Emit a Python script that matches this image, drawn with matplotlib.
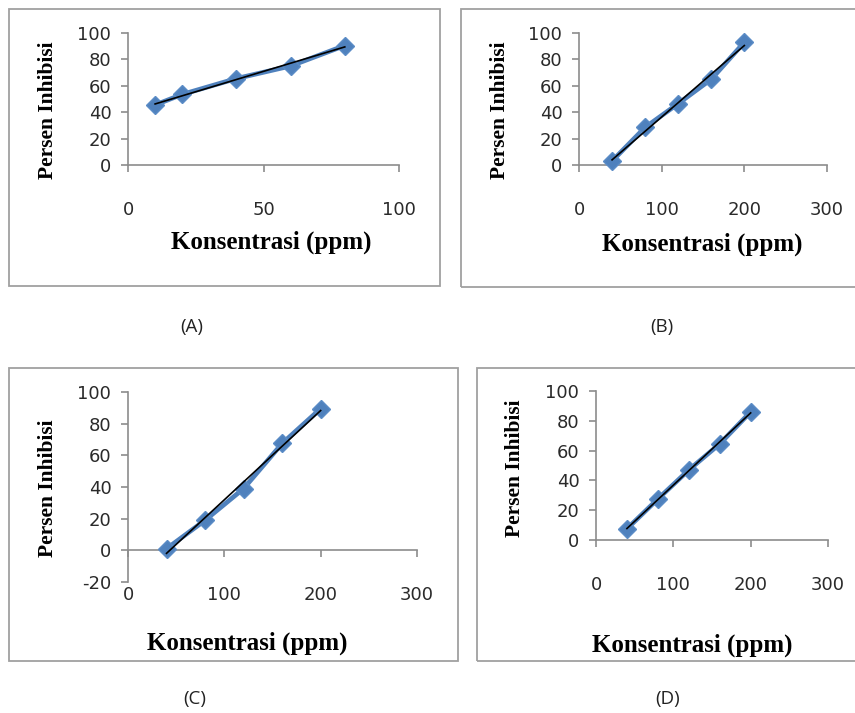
import matplotlib
matplotlib.use("Agg")
import matplotlib.pyplot as plt
from matplotlib.patches import Rectangle
import numpy as np

plt.rcParams["axes.unicode_minus"] = False

W, H = 855, 713

# ---- data ----
conc_A = [10, 20, 40, 60, 80]
inhib_A = [45.5, 53.5, 65.5, 75.0, 90.5]
conc_B = [40, 80, 120, 160, 200]
inhib_B = [3.0, 28.5, 46.5, 65.0, 93.0]
conc_C = [40, 80, 120, 160, 200]
inhib_C = [1.0, 19.0, 39.0, 67.5, 89.5]
conc_D = [40, 80, 120, 160, 200]
inhib_D = [7.5, 27.5, 47.0, 64.5, 86.0]

xticks_A = [0, 50, 100]
xticks_BCD = [0, 100, 200, 300]
yticks_ABD = [0, 20, 40, 60, 80, 100]
yticks_C = [-20, 0, 20, 40, 60, 80, 100]
panel_labels = ["(A)", "(B)", "(C)", "(D)"]
xlabel = "Konsentrasi (ppm)"
ylabel = "Persen Inhibisi"

fig = plt.figure(figsize=(W / 100, H / 100), dpi=100)
fig.patch.set_facecolor("white")


def frac(l, t, r, b):
    return [l / W, 1 - b / H, (r - l) / W, (b - t) / H]


# panel frames (pixel boxes)
frames = [(9, 9, 440, 286), (461, 9, 858, 287), (9, 368, 458, 661), (477, 368, 858, 661)]
for (l, t, r, b) in frames:
    fig.patches.append(Rectangle((l / W, 1 - b / H), (r - l) / W, (b - t) / H,
                                 transform=fig.transFigure, fill=False,
                                 edgecolor="#a0a0a0", linewidth=1.3))

specs = [
    dict(x=conc_A, y=inhib_A, box=(128, 33, 399, 165), xlim=(0, 100), ylim=(0, 100),
         xt=xticks_A, yt=yticks_ABD, xl=(271, 242), yl=(48, 110), pl=(192, 327), lab=panel_labels[0]),
    dict(x=conc_B, y=inhib_B, box=(579, 33, 827, 165), xlim=(0, 300), ylim=(0, 100),
         xt=xticks_BCD, yt=yticks_ABD, xl=(702, 244), yl=(500, 110), pl=(662, 327), lab=panel_labels[1]),
    dict(x=conc_C, y=inhib_C, box=(128, 392, 417, 582), xlim=(0, 300), ylim=(-20, 100),
         xt=xticks_BCD, yt=yticks_C, xl=(247, 643), yl=(48, 488), pl=(195, 699), lab=panel_labels[2]),
    dict(x=conc_D, y=inhib_D, box=(596, 391, 828, 540), xlim=(0, 300), ylim=(0, 100),
         xt=xticks_BCD, yt=yticks_ABD, xl=(692, 645), yl=(515, 468), pl=(668, 699), lab=panel_labels[3]),
]

blue = "#4F81BD"
gray = "#8c8c8c"

for s in specs:
    ax = fig.add_axes(frac(*s["box"]))
    ax.set_xlim(*s["xlim"])
    ax.set_ylim(*s["ylim"])
    ax.set_facecolor("none")
    ax.plot(s["x"], s["y"], color=blue, lw=3.4, marker="D", ms=9.5,
            mfc=blue, mec="#5b8cc6", zorder=3, clip_on=False)
    k, c = np.polyfit(s["x"], s["y"], 1)
    xs = np.array([min(s["x"]), max(s["x"])])
    ax.plot(xs, k * xs + c, color="black", lw=1.2, zorder=4, clip_on=False)
    for sp in ["top", "right"]:
        ax.spines[sp].set_visible(False)
    ax.spines["left"].set_color(gray)
    ax.spines["bottom"].set_color(gray)
    ax.spines["left"].set_linewidth(1.2)
    ax.spines["bottom"].set_linewidth(1.2)
    ax.spines["bottom"].set_position(("data", 0))
    ax.set_xticks(s["xt"])
    ax.set_yticks(s["yt"])
    ax.tick_params(axis="both", direction="out", length=5, width=1.2, color=gray,
                   labelsize=13, labelcolor="#2a2a2a")
    ax.tick_params(axis="x", pad=21)
    ax.tick_params(axis="y", pad=7)
    fig.text(s["xl"][0] / W, 1 - s["xl"][1] / H, xlabel, ha="center", va="center",
             family="Liberation Serif", weight="bold", fontsize=18)
    fig.text(s["yl"][0] / W, 1 - s["yl"][1] / H, ylabel, ha="center", va="center",
             rotation=90, family="Liberation Serif", weight="bold", fontsize=15.5)
    fig.text(s["pl"][0] / W, 1 - s["pl"][1] / H, s["lab"], ha="center", va="center",
             family="Open Sans", fontsize=13.5, color="#222222")

fig.savefig("out.png", dpi=100, facecolor="white")
